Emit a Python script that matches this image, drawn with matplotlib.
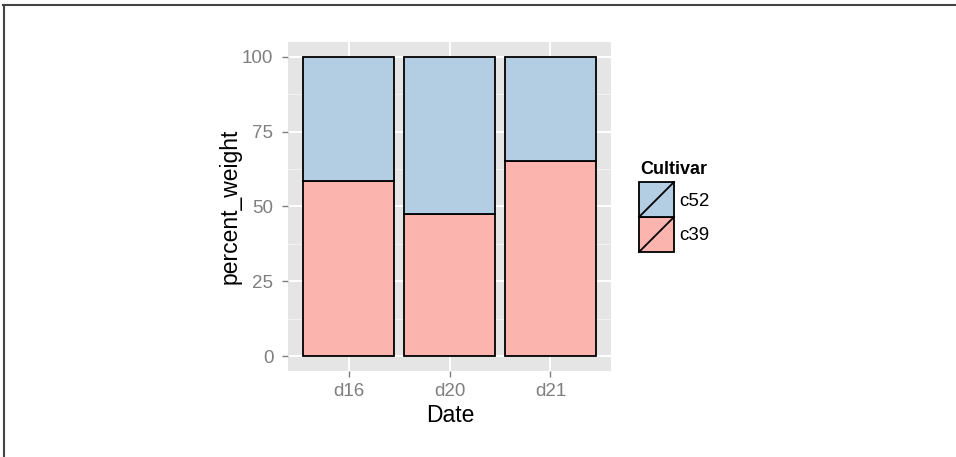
import matplotlib
matplotlib.use("Agg")
import matplotlib.pyplot as plt
from matplotlib.patches import Rectangle
from matplotlib.lines import Line2D
import numpy as np

plt.rcParams['font.family'] = ['Liberation Sans', 'DejaVu Sans']

dates = ["d16", "d20", "d21"]
cultivars = ["c39", "c52"]
pct_c39 = [58.46, 47.38, 65.08]
pct_c52 = [41.54, 52.62, 34.92]
colors = {"c39": "#FBB4AE", "c52": "#B3CDE3"}
yticks = [0, 25, 50, 75, 100]

W, H = 956, 457
fig = plt.figure(figsize=(W / 100, H / 100), dpi=100)

def px(x0, y0, x1, y1):
    return [x0 / W, 1 - y1 / H, (x1 - x0) / W, (y1 - y0) / H]

ax = fig.add_axes(px(288, 42, 611, 371))
ax.set_facecolor("#E5E5E5")
for s in ax.spines.values():
    s.set_visible(False)

x = np.arange(1, len(dates) + 1)
ax.bar(x, pct_c39, width=0.9, color=colors["c39"], edgecolor="black", linewidth=1.3, zorder=3)
ax.bar(x, pct_c52, width=0.9, bottom=pct_c39, color=colors["c52"], edgecolor="black", linewidth=1.3, zorder=3)

ax.set_xlim(0.4, 3.6)
ax.set_ylim(-5, 105)
ax.set_xticks(x)
ax.set_xticklabels(dates)
ax.set_yticks(yticks)
ax.set_yticks([12.5, 37.5, 62.5, 87.5], minor=True)
ax.grid(which="major", color="white", linewidth=1.4, zorder=1)
ax.grid(which="minor", axis="y", color="#F2F2F2", linewidth=0.7, zorder=1)
ax.set_axisbelow(True)
ax.tick_params(which="major", length=4.5, width=1.0, color="#7F7F7F",
               labelcolor="#7F7F7F", labelsize=13.5)
ax.tick_params(axis="y", pad=6)
ax.tick_params(axis="x", pad=4)
ax.tick_params(which="minor", length=0)

ax.set_xlabel("Date", fontsize=16.5, va="center")
ax.set_ylabel("percent_weight", fontsize=16.5, va="center")
ax.xaxis.set_label_coords((450 - 288) / 323, -(416 - 371) / 329)
ax.yaxis.set_label_coords(-(288 - 230) / 323, 0.5)

# legend
lax = fig.add_axes(px(639, 182, 674, 252))
lax.set_xlim(0, 1)
lax.set_ylim(0, 2)
lax.axis("off")
for i, c in enumerate(["c39", "c52"]):
    lax.add_patch(Rectangle((0, i), 1, 1, facecolor=colors[c], edgecolor="black",
                            linewidth=1.3, clip_on=False))
    lax.plot([0, 1], [i, i + 1], color="black", linewidth=1.3, clip_on=False)
fig.text(640 / W, 1 - 169 / H, "Cultivar", fontsize=13, fontweight="bold", va="center", ha="left")
fig.text(679 / W, 1 - 202 / H, "c52", fontsize=13.5, va="center", ha="left")
fig.text(679 / W, 1 - 236 / H, "c39", fontsize=13.5, va="center", ha="left")

# image frame (top and left)
fig.add_artist(Line2D([3 / W, 1], [1 - 4.5 / H, 1 - 4.5 / H], color="#444444", linewidth=1.5))
fig.add_artist(Line2D([3.5 / W, 3.5 / W], [0, 1 - 4.5 / H], color="#444444", linewidth=1.5))

fig.savefig("out.png", dpi=100)
